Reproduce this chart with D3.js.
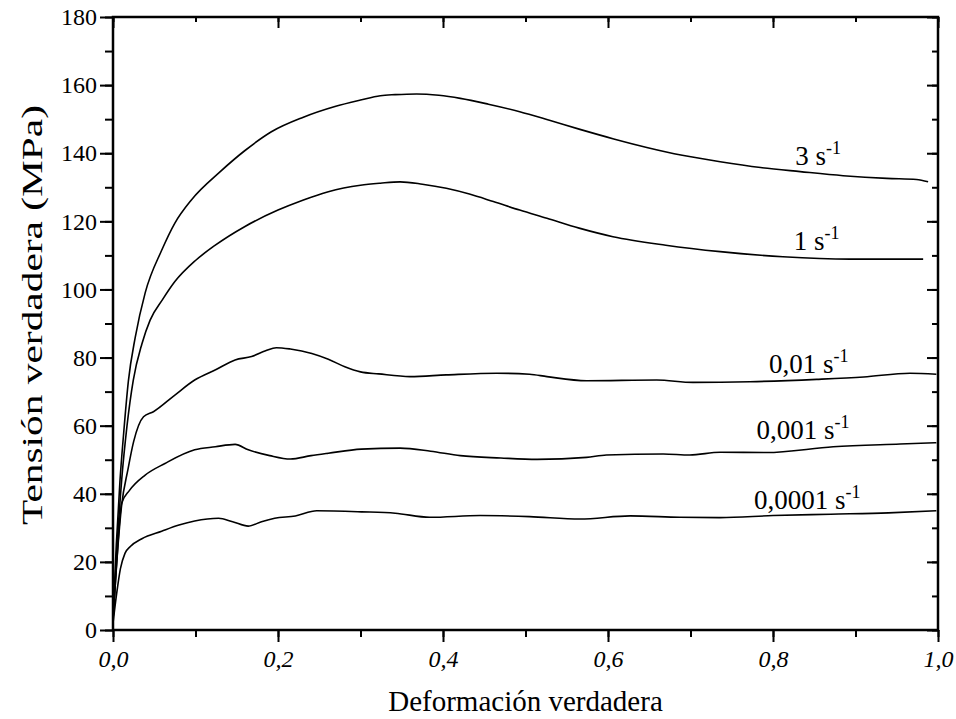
<!DOCTYPE html>
<meta charset="utf-8">
<script src="https://d3js.org/d3.v7.min.js"></script>
<style>
  body { margin: 0; background: #fff; }
  text { font-family: "Liberation Serif", "Times New Roman", serif; fill: #000; }
</style>
<div id="chart"></div>
<script>
  // true strain / true stress (MPa), one curve per strain rate
  var rate3 = [[0,3],[0.004,25],[0.0085,44],[0.013,58],[0.0186,73],[0.027,86],[0.039,99],[0.059,111.5],[0.075,119.5],[0.095,126.3],[0.13,134.6],[0.16,140.8],[0.192,146.3],[0.23,150.5],[0.269,153.7],[0.30,155.6],[0.324,156.9],[0.342,157.2],[0.368,157.4],[0.395,157],[0.421,156.1],[0.455,154.4],[0.493,152.2],[0.53,149.6],[0.566,147.0],[0.607,144.2],[0.647,141.7],[0.69,139.4],[0.736,137.5],[0.785,135.8],[0.833,134.6],[0.885,133.4],[0.938,132.6],[0.974,132.3],[0.988,131.6]];
  var rate1 = [[0,3],[0.005,25],[0.0105,44],[0.017,60],[0.0246,73.4],[0.035,84],[0.045,91],[0.06,97],[0.075,102.3],[0.1,108.5],[0.124,113],[0.16,118.5],[0.2,123.3],[0.23,126.2],[0.261,128.7],[0.30,130.6],[0.324,131.2],[0.348,131.6],[0.375,130.9],[0.404,129.7],[0.432,128],[0.461,125.8],[0.493,123.3],[0.526,120.9],[0.565,118],[0.606,115.5],[0.67,113],[0.736,111.1],[0.812,109.6],[0.893,108.9],[0.982,108.9]];
  var rate001 = [[0,3],[0.004,18],[0.0105,36.7],[0.018,47],[0.025,55.3],[0.037,62.6],[0.049,64.1],[0.075,69],[0.099,73.4],[0.125,76.5],[0.148,79.3],[0.168,80.3],[0.185,82],[0.198,82.9],[0.215,82.5],[0.241,81.2],[0.261,79.5],[0.281,77.3],[0.30,75.8],[0.322,75.2],[0.36,74.4],[0.404,74.9],[0.465,75.4],[0.505,75.1],[0.526,74.4],[0.574,73.2],[0.659,73.4],[0.703,72.7],[0.772,72.9],[0.853,73.6],[0.91,74.3],[0.966,75.4],[0.998,75.1]];
  var rate0001 = [[0,3],[0.004,18],[0.0105,37.2],[0.02,41],[0.039,45.5],[0.063,48.9],[0.099,52.9],[0.124,53.8],[0.148,54.5],[0.164,52.9],[0.19,51.2],[0.215,50.2],[0.24,51.2],[0.261,51.9],[0.301,53.1],[0.348,53.4],[0.385,52.5],[0.421,51.2],[0.47,50.5],[0.514,50.1],[0.574,50.7],[0.598,51.4],[0.667,51.7],[0.699,51.4],[0.736,52.2],[0.792,52.1],[0.873,53.8],[0.954,54.6],[0.998,55]];
  var rate00001 = [[0,2],[0.0045,10.8],[0.009,18],[0.0145,22.5],[0.021,24.5],[0.035,26.8],[0.059,29],[0.08,30.8],[0.099,32],[0.128,32.8],[0.145,31.8],[0.164,30.5],[0.18,31.8],[0.196,32.8],[0.221,33.5],[0.247,35.0],[0.301,34.7],[0.342,34.3],[0.384,33.1],[0.445,33.6],[0.505,33.3],[0.566,32.6],[0.627,33.5],[0.687,33.1],[0.736,33],[0.8,33.6],[0.87,34],[0.94,34.4],[0.998,35]];

  var series = [rate3, rate1, rate001, rate0001, rate00001];
  var rateLabels = ["3", "1", "0,01", "0,001", "0,0001"];
  // label anchor (strain, stress) for each curve label
  var labelAt = [[0.827, 136.5], [0.825, 111.5], [0.795, 75.5], [0.78, 56], [0.777, 35.5]];

  var xTicks = [0, 0.2, 0.4, 0.6, 0.8, 1.0];
  var yTicks = [0, 20, 40, 60, 80, 100, 120, 140, 160, 180];

  var width = 956, height = 719;
  var margin = { top: 17, right: 18, bottom: 89, left: 113 };
  var w = width - margin.left - margin.right;
  var h = height - margin.top - margin.bottom;

  var svg = d3.select("#chart").append("svg")
    .attr("width", width)
    .attr("height", height);
  var g = svg.append("g")
    .attr("transform", "translate(" + margin.left + "," + margin.top + ")");

  var x = d3.scaleLinear().domain([0, 1]).range([0, w]);
  var y = d3.scaleLinear().domain([0, 180]).range([h, 0]);

  var fmtX = function (d) { return d3.format(".1f")(d).replace(".", ","); };
  var minorX = d3.range(0, 1.0001, 0.1);
  var minorY = d3.range(0, 181, 10);

  function styleAxis(sel) {
    sel.select(".domain").remove();
    sel.selectAll("line").attr("stroke", "#000").attr("stroke-width", 2);
  }

  // minor ticks
  g.append("g").attr("transform", "translate(0," + h + ")")
    .call(d3.axisBottom(x).tickValues(minorX).tickSize(7).tickFormat(""))
    .call(styleAxis);
  g.append("g")
    .call(d3.axisLeft(y).tickValues(minorY).tickSize(8).tickFormat(""))
    .call(styleAxis);
  g.append("g")
    .call(d3.axisBottom(x).tickValues(minorX).tickSize(5).tickFormat(""))
    .call(styleAxis);
  g.append("g").attr("transform", "translate(" + w + ",0)")
    .call(d3.axisLeft(y).tickValues(minorY).tickSize(6).tickFormat(""))
    .call(styleAxis);

  // major ticks
  var xAxis = g.append("g").attr("transform", "translate(0," + h + ")")
    .call(d3.axisBottom(x).tickValues(xTicks).tickSize(12).tickPadding(8).tickFormat(fmtX))
    .call(styleAxis);
  xAxis.selectAll("text").style("font-size", "24px").style("font-style", "italic");

  var yAxis = g.append("g")
    .call(d3.axisLeft(y).tickValues(yTicks).tickSize(13).tickPadding(3).tickFormat(d3.format("d")))
    .call(styleAxis);
  yAxis.selectAll("text").style("font-size", "24px");

  g.append("g")
    .call(d3.axisBottom(x).tickValues(xTicks).tickSize(11).tickFormat(""))
    .call(styleAxis);
  g.append("g").attr("transform", "translate(" + w + ",0)")
    .call(d3.axisLeft(y).tickValues(yTicks).tickSize(11).tickFormat(""))
    .call(styleAxis);

  // frame
  g.append("rect")
    .attr("width", w).attr("height", h)
    .attr("fill", "none").attr("stroke", "#000").attr("stroke-width", 2.5);

  // curves
  var line = d3.line()
    .x(function (d) { return x(d[0]); })
    .y(function (d) { return y(d[1]); })
    .curve(d3.curveMonotoneX);

  g.selectAll(".curve")
    .data(series)
    .enter()
    .append("path")
    .attr("class", "curve")
    .attr("d", line)
    .attr("fill", "none")
    .attr("stroke", "#000")
    .attr("stroke-width", 1.6);

  // curve labels
  var lbl = g.selectAll(".rate")
    .data(rateLabels)
    .enter()
    .append("text")
    .attr("class", "rate")
    .attr("x", function (d, i) { return x(labelAt[i][0]); })
    .attr("y", function (d, i) { return y(labelAt[i][1]); })
    .style("font-size", "27px");
  lbl.append("tspan").text(function (d) { return d + " s"; });
  lbl.append("tspan").text("-1").attr("dy", -11).style("font-size", "18px");

  // axis titles
  svg.append("text")
    .attr("x", margin.left + w / 2)
    .attr("y", 711)
    .attr("text-anchor", "middle")
    .style("font-size", "29px")
    .text("Deformación verdadera");

  svg.append("text")
    .attr("transform", "translate(42,315) rotate(-90)")
    .attr("text-anchor", "middle")
    .attr("textLength", 420)
    .attr("lengthAdjust", "spacingAndGlyphs")
    .style("font-size", "30px")
    .text("Tensión verdadera (MPa)");
</script>
